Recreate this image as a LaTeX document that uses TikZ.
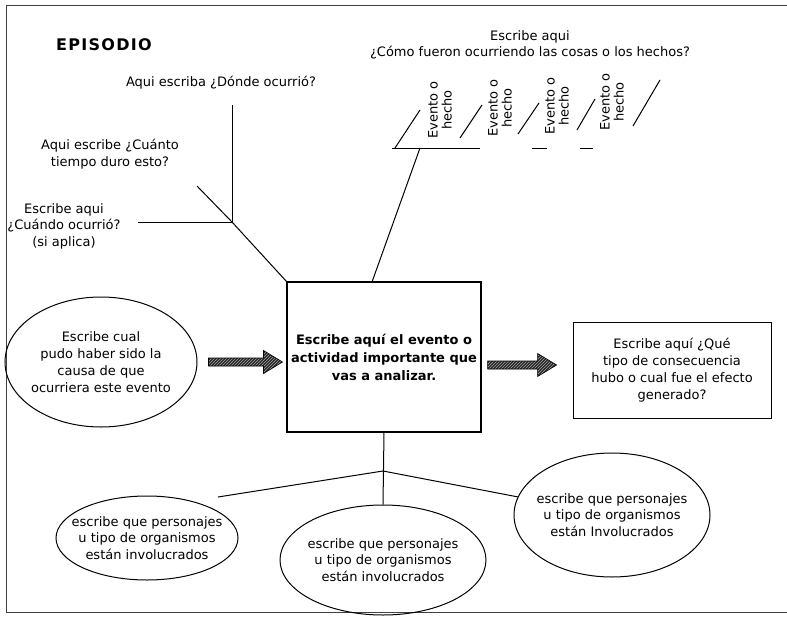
\documentclass[tikz,border=0pt]{standalone}
\usepackage{fontspec}
\setmainfont{DejaVu Sans}
\newfontfamily\episodefont[LetterSpace=8]{DejaVu Sans}
\usetikzlibrary{shapes.geometric,patterns,calc}
\begin{document}
\begin{tikzpicture}[x=1pt,y=-1pt,
  txt/.style={font=\fontsize{13}{16.5}\selectfont, align=center, inner sep=0},
  vtxt/.style={font=\fontsize{13}{14}\selectfont, align=center, inner sep=0, rotate=90},
  boldtxt/.style={font=\fontsize{13}{18}\selectfont\bfseries, align=center, inner sep=0},
  ln/.style={line width=1pt, draw=black},
  frameline/.style={line width=0.9pt, draw=black!75},
  oval/.style={ellipse, draw=black, line width=1pt, inner sep=0},
  box/.style={rectangle, draw=black, line width=1.2pt, inner sep=0},
  fatarrow/.style={draw=black, line width=0.6pt, line join=miter, preaction={fill=black!85},
    pattern=north east lines, pattern color=white!65!black}]
\useasboundingbox (0,0) rectangle (787,621);

% frame
\coordinate (ftl) at (6,5);
\coordinate (ftr) at (787,5);
\coordinate (fbl) at (6,612);
\coordinate (fbr) at (787,612);
\draw[frameline] (ftr) -- (ftl) -- (fbl) -- (fbr);

% title
\node[font=\episodefont\fontsize{16}{19}\selectfont\bfseries, inner sep=0] (title) at (104,45) {EPISODIO};

% main box and side boxes
\node[box, minimum width=194, minimum height=150] (main) at (384,357) {};
\node[boldtxt] (maint) at (main) {Escribe aquí el evento o\\actividad importante que\\vas a analizar.};

\node[oval, minimum width=192, minimum height=130] (cause) at (101,362) {};
\node[txt, font=\fontsize{13}{17}\selectfont] (causet) at (cause) {Escribe cual\\pudo haber sido la\\causa de que\\ocurriera este evento};

\node[box, line width=1pt, minimum width=198, minimum height=96] (effect) at (672,370) {};
\node[txt, font=\fontsize{13}{17}\selectfont] (effectt) at (effect) {Escribe aquí ¿Qué\\tipo de consecuencia\\hubo o cual fue el efecto\\generado?};

% fat arrows (cause -> main, main -> effect)
\coordinate (a1s) at ($(cause.east)+(11,0)$);
\coordinate (a2s) at ($(main.east)+(6,8)$);
\draw[fatarrow] (a1s) ++(0,-4) -- ++(55,0) -- ++(0,-7.5) -- ++(19,11.5) -- ++(-19,11.5)
  -- ++(0,-7.5) -- ++(-55,0) -- cycle;
\draw[fatarrow] (a2s) ++(0,-4) -- ++(50,0) -- ++(0,-7.5) -- ++(19,11.5) -- ++(-19,11.5)
  -- ++(0,-7.5) -- ++(-50,0) -- cycle;

% fishbone on the left
\coordinate (j1) at (232,222);
\coordinate (d1) at (197,186);
\coordinate (v1) at (232,105);
\coordinate (h1) at (138,222);
\draw[ln] (main.north west) -- (j1) -- (d1);
\draw[ln] (j1) -- (v1);
\draw[ln] (j1) -- (h1);

\node[txt] (where) at (221,83) {Aqui escriba ¿Dónde ocurrió?};
\node[txt] (howlong) at (110,154) {Aqui escribe ¿Cuánto\\tiempo duro esto?};
\node[txt] (when) at (64,226) {Escribe aqui\\¿Cuándo ocurrió?\\(si aplica)};

% top right: sequence of events
\coordinate (mt) at (372,282);
\coordinate (t1) at (420,148);
\draw[ln] (mt) -- (t1);
\draw[ln] (392,148) -- (480,148);
\draw[ln] (532,148) -- (547,148);
\draw[ln] (580,148) -- (593,148);
\draw[ln] (395,148) -- (420,110);
\draw[ln] (460,138) -- (482,105);
\draw[ln] (518,134) -- (539,103);
\draw[ln] (577,130) -- (595,99);
\draw[ln] (633,126) -- (660,80);

\node[txt] (how) at (530,45) {Escribe aqui\\¿Cómo fueron ocurriendo las cosas o los hechos?};
\node[vtxt] (ev1) at (440,110) {Evento o\\hecho};
\node[vtxt] (ev2) at (500,108) {Evento o\\hecho};
\node[vtxt] (ev3) at (557,106) {Evento o\\hecho};
\node[vtxt] (ev4) at (612,102) {Evento o\\hecho};

% bottom: characters involved
\node[oval, minimum width=182, minimum height=84] (p1) at (147,538) {};
\node[txt] (p1t) at (p1) {escribe que personajes\\u tipo de organismos\\están involucrados};
\node[oval, minimum width=206, minimum height=110] (mid) at (383,560) {};
\node[txt] (midt) at (mid) {escribe que personajes\\u tipo de organismos\\están involucrados};
\node[oval, minimum width=196, minimum height=124] (re) at (612,515) {};
\node[txt] (ret) at (re) {escribe que personajes\\u tipo de organismos\\están Involucrados};

\coordinate (br) at (383,471);
\coordinate (bl) at (218,497);
\draw[ln] (main.south) -- (mid.north);
\draw[ln] (br) -- (bl);
\draw[ln] (br) -- (re);
\end{tikzpicture}
\end{document}
